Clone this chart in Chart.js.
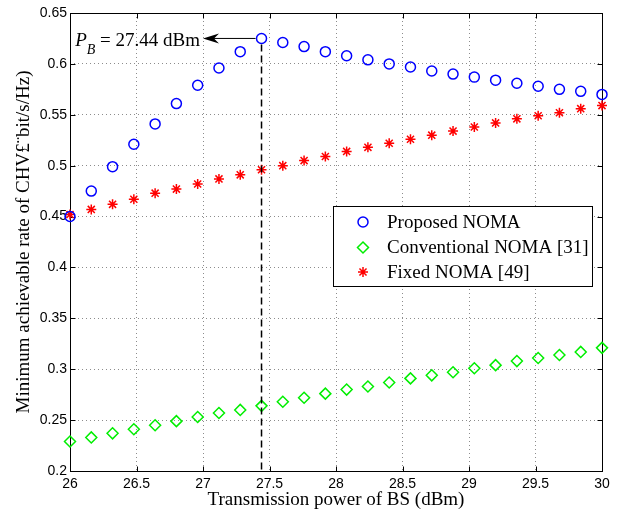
<!DOCTYPE html>
<html>
<head>
<meta charset="utf-8">
<title>Minimum achievable rate vs transmission power</title>
<script src="https://cdn.jsdelivr.net/npm/chart.js@4.4.0/dist/chart.umd.min.js"></script>
<style>
  html, body { margin: 0; padding: 0; background: #fff; }
  #wrap { width: 619px; height: 514px; }
</style>
</head>
<body>
<div id="wrap"><canvas id="rateChart" width="619" height="514"></canvas></div>
<script>
// -------------------------------
// Data
// -------------------------------
const powerDbm = [26, 26.16, 26.32, 26.48, 26.64, 26.8, 26.96, 27.12, 27.28, 27.44, 27.6, 27.76, 27.92,
  28.08, 28.24, 28.4, 28.56, 28.72, 28.88, 29.04, 29.2, 29.36, 29.52, 29.68, 29.84, 30];
const proposedNoma = [0.450, 0.475, 0.499, 0.521, 0.541, 0.561, 0.579, 0.596, 0.612, 0.625, 0.621, 0.617, 0.612,
  0.608, 0.604, 0.600, 0.597, 0.593, 0.590, 0.587, 0.584, 0.581, 0.578, 0.575, 0.573, 0.570];
const conventionalNoma = [0.229, 0.233, 0.237, 0.241, 0.245, 0.249, 0.253, 0.257, 0.260, 0.264, 0.268, 0.272, 0.276,
  0.280, 0.283, 0.287, 0.291, 0.294, 0.297, 0.301, 0.304, 0.308, 0.311, 0.314, 0.317, 0.321];
const fixedNoma = [0.452, 0.457, 0.462, 0.467, 0.473, 0.477, 0.482, 0.487, 0.491, 0.496, 0.500, 0.505, 0.509,
  0.514, 0.518, 0.522, 0.526, 0.530, 0.534, 0.538, 0.542, 0.546, 0.549, 0.552, 0.556, 0.559];
const seriesNames = ['Proposed NOMA', 'Conventional NOMA [31]', 'Fixed NOMA [49]'];
const xTicks = [26, 26.5, 27, 27.5, 28, 28.5, 29, 29.5, 30];
const yTicks = [0.2, 0.25, 0.3, 0.35, 0.4, 0.45, 0.5, 0.55, 0.6, 0.65];
const optimalPower = 27.44;   // P_B marker
const arrowTipPower = 27.0;

const SERIF = '"Liberation Serif", "Times New Roman", serif';
const SANS = '"Liberation Sans", Arial, sans-serif';

const toPoints = ys => powerDbm.map((x, i) => ({ x: x, y: ys[i] }));

// -------------------------------
// Marker helper (used by the legend box)
// -------------------------------
function marker(ctx, style, x, y, r, color) {
  ctx.save();
  ctx.strokeStyle = color;
  ctx.lineWidth = 1.5;
  ctx.beginPath();
  if (style === 'circle') {
    ctx.arc(x, y, r, 0, Math.PI * 2);
  } else if (style === 'rectRot') {
    ctx.moveTo(x, y - r); ctx.lineTo(x + r, y); ctx.lineTo(x, y + r); ctx.lineTo(x - r, y); ctx.closePath();
  } else {
    const d = r * Math.SQRT1_2;
    ctx.moveTo(x - r, y); ctx.lineTo(x + r, y);
    ctx.moveTo(x, y - r); ctx.lineTo(x, y + r);
    ctx.moveTo(x - d, y - d); ctx.lineTo(x + d, y + d);
    ctx.moveTo(x - d, y + d); ctx.lineTo(x + d, y - d);
  }
  ctx.stroke();
  ctx.restore();
}

// -------------------------------
// Frame, inner ticks, P_B annotation, legend
// -------------------------------
const extras = {
  id: 'extras',
  beforeDatasetsDraw(chart) {
    // frame + inner ticks (MATLAB style), under the markers
    const { ctx, chartArea: a, scales: { x, y } } = chart;
    const L = Math.round(a.left) + 0.5, R = Math.round(a.right) + 0.5;
    const T = Math.round(a.top) + 0.5, B = Math.round(a.bottom) + 0.5;
    ctx.save();
    ctx.strokeStyle = '#000';
    ctx.lineWidth = 1;
    ctx.beginPath();
    xTicks.forEach(v => {
      const px = Math.round(x.getPixelForValue(v)) + 0.5;
      ctx.moveTo(px, B); ctx.lineTo(px, B - 5);
      ctx.moveTo(px, T); ctx.lineTo(px, T + 5);
    });
    yTicks.forEach(v => {
      const py = Math.round(y.getPixelForValue(v)) + 0.5;
      ctx.moveTo(L, py); ctx.lineTo(L + 5, py);
      ctx.moveTo(R, py); ctx.lineTo(R - 5, py);
    });
    ctx.stroke();
    ctx.strokeRect(L, T, R - L, B - T);
    ctx.restore();
  },
  afterDraw(chart) {
    const { ctx, chartArea: a, scales: { x, y } } = chart;
    ctx.save();

    // dashed line at P_B
    const peakIdx = powerDbm.indexOf(optimalPower);
    const px = x.getPixelForValue(optimalPower);
    const py = y.getPixelForValue(proposedNoma[peakIdx]);
    ctx.strokeStyle = '#000';
    ctx.setLineDash([7, 4]);
    ctx.lineWidth = 1.5;
    ctx.beginPath();
    ctx.moveTo(px, py + 6);
    ctx.lineTo(px, a.bottom);
    ctx.stroke();
    ctx.setLineDash([]);

    // arrow
    const tipX = x.getPixelForValue(arrowTipPower);
    ctx.lineWidth = 1;
    ctx.beginPath();
    ctx.moveTo(px - 6, py);
    ctx.lineTo(tipX + 10, py);
    ctx.stroke();
    ctx.fillStyle = '#000';
    ctx.beginPath();
    ctx.moveTo(tipX, py);
    ctx.lineTo(tipX + 16, py - 5);
    ctx.lineTo(tipX + 11, py);
    ctx.lineTo(tipX + 16, py + 5);
    ctx.closePath();
    ctx.fill();

    // P_B = 27.44 dBm
    const parts = [
      { t: 'P', f: 'italic 19px ' + SERIF, dy: 0 },
      { t: 'B', f: 'italic 14px ' + SERIF, dy: 8 },
      { t: ' = 27.44 dBm', f: '19px ' + SERIF, dy: 0 }
    ];
    let w = 0;
    parts.forEach(p => { ctx.font = p.f; p.w = ctx.measureText(p.t).width; w += p.w; });
    let tx = tipX - 3 - w;
    ctx.textBaseline = 'alphabetic';
    ctx.textAlign = 'left';
    parts.forEach(p => {
      ctx.font = p.f;
      ctx.fillText(p.t, tx, py + 8 + p.dy);
      tx += p.w;
    });

    // legend box
    const bx = 333.5, by = 206.5, bw = 259, bh = 80;
    ctx.fillStyle = '#fff';
    ctx.fillRect(bx, by, bw, bh);
    ctx.strokeStyle = '#000';
    ctx.lineWidth = 1;
    ctx.strokeRect(bx, by, bw, bh);
    const styles = chart.data.datasets.map(d => [d.pointStyle, d.pointRadius, d.borderColor]);
    const rows = [222, 247.5, 272];
    ctx.font = '19px ' + SERIF;
    ctx.fillStyle = '#000';
    ctx.textBaseline = 'middle';
    seriesNames.forEach((name, i) => {
      marker(ctx, styles[i][0], 363, rows[i], styles[i][1], styles[i][2]);
      ctx.fillText(name, 387, rows[i] + 1);
    });

    ctx.restore();
  }
};

// -------------------------------
// Chart
// -------------------------------
new Chart(document.getElementById('rateChart'), {
  type: 'scatter',
  data: {
    datasets: [
      { label: seriesNames[0], data: toPoints(proposedNoma), pointStyle: 'circle', pointRadius: 5, clip: false,
        borderColor: '#0000ff', backgroundColor: 'rgba(0,0,0,0)', pointBorderWidth: 1.5 },
      { label: seriesNames[1], data: toPoints(conventionalNoma), pointStyle: 'rectRot', pointRadius: 5.5, clip: false,
        borderColor: '#00ee00', backgroundColor: 'rgba(0,0,0,0)', pointBorderWidth: 1.5 },
      { label: seriesNames[2], data: toPoints(fixedNoma), pointStyle: 'star', pointRadius: 5, clip: false,
        borderColor: '#ff0000', backgroundColor: 'rgba(0,0,0,0)', pointBorderWidth: 1.5 }
    ]
  },
  options: {
    responsive: false,
    animation: false,
    devicePixelRatio: 1,
    layout: { padding: { left: 0, right: 17, top: 13, bottom: 0 } },
    plugins: { legend: { display: false }, tooltip: { enabled: false } },
    scales: {
      x: {
        type: 'linear', min: 26, max: 30,
        afterBuildTicks: s => { s.ticks = xTicks.map(v => ({ value: v })); },
        afterFit: s => { s.height = 43; },
        ticks: { callback: v => String(v), font: { family: SANS, size: 14 }, color: '#000', padding: 5, maxRotation: 0, autoSkip: false },
        grid: { color: '#8c8c8c', lineWidth: 1, drawTicks: false },
        border: { display: false, dash: [1, 3] },
        title: { display: true, text: 'Transmission power of BS (dBm)', color: '#000',
          font: { family: SERIF, size: 19 }, padding: { top: 0, bottom: 3 } }
      },
      y: {
        type: 'linear', min: 0.2, max: 0.65,
        afterBuildTicks: s => { s.ticks = yTicks.map(v => ({ value: v })); },
        afterFit: s => { s.width = 70; },
        ticks: { callback: v => String(v), font: { family: SANS, size: 14 }, color: '#000', padding: 3, autoSkip: false },
        grid: { color: '#8c8c8c', lineWidth: 1, drawTicks: false },
        border: { display: false, dash: [1, 3] },
        title: { display: true, text: 'Minimum achievable rate of CHV£¨bit/s/Hz)', color: '#000',
          font: { family: SERIF, size: 19 }, padding: { top: 13, bottom: 0 } }
      }
    }
  },
  plugins: [extras]
});
</script>
</body>
</html>
